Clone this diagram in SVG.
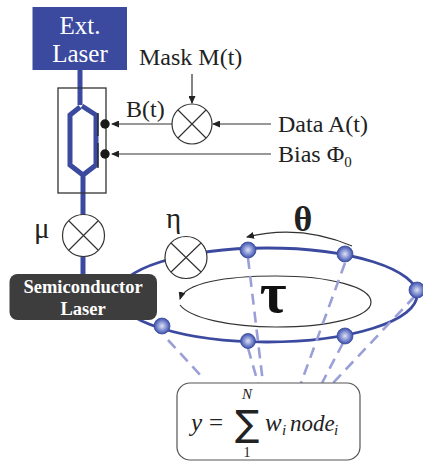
<svg xmlns="http://www.w3.org/2000/svg" width="423" height="461" viewBox="0 0 423 461">
<style>
text{font-family:"Liberation Serif","Times New Roman",serif;fill:#222}
.l{font-size:24px}
.wg{fill:none;stroke:#3b4a9f;stroke-width:5}
.thin{fill:none;stroke:#333;stroke-width:1.2}
.mix{fill:#fff;stroke:#333;stroke-width:1.2}
.dash{fill:none;stroke:#9a9fd8;stroke-width:2.6;stroke-dasharray:11 7}
.node{fill:url(#ball);stroke:#3b4a9f;stroke-width:.8}
.m{font-style:italic;font-size:25px}
.s{font-style:italic;font-size:15px}
</style>
<defs>
<radialGradient id="ball" cx=".5" cy=".5" r=".55"><stop offset="0" stop-color="#dfe2f5"/><stop offset=".55" stop-color="#7a8ace"/><stop offset="1" stop-color="#2c3f9e"/></radialGradient>
<marker id="arr" markerWidth="8" markerHeight="7" refX="7" refY="3.5" orient="auto" markerUnits="userSpaceOnUse"><path d="M0 0L8 3.500L0 7z" fill="#222"/></marker>
</defs>
<g id="connectors">
<path class="wg" d="M80 70V105M80 107L70 115V165L83 175L96 165V115L82 106M83 175V217M83 254V276"/>
<ellipse cx="267" cy="295" rx="150" ry="47" fill="none" stroke="#3b4a9f" stroke-width="2.800"/>
<path class="thin" d="M172 124H112" marker-end="url(#arr)"/>
<path class="thin" d="M271 154H112" marker-end="url(#arr)"/>
<path class="thin" d="M271 124H213" marker-end="url(#arr)"/>
<path class="thin" d="M192 74V103" marker-end="url(#arr)"/>
<path class="thin" d="M352 246Q300 224 247 237" marker-end="url(#arr)"/>
<path class="thin" d="M180 305C190 318 230 327 276 327C330 327 371 317 371 302C371 287 330 276 276 276C225 276 185 283 180 299" marker-end="url(#arr)"/>
<path class="dash" d="M168 340L203 378M248 348L258 383M248 258L263 383M345 263L301 383M343 343L322 383M415 296L333 383"/>
</g>
<g id="ext-laser"><rect x="32.500" y="7" width="94.500" height="63" fill="#3b4a9f"/><text x="80" y="34" text-anchor="middle" style="fill:#fff;font-size:25px">Ext.</text><text x="80" y="62" text-anchor="middle" style="fill:#fff;font-size:25px">Laser</text></g>
<g id="modulator"><rect x="58" y="88" width="48" height="105" fill="none" stroke="#333" stroke-width="1.300"/><path d="M98 113V136M98 143V168" stroke="#222" stroke-width="1.300" fill="none"/><circle cx="105" cy="124" r="4.700" fill="#1a1a1a"/><circle cx="105" cy="154" r="4.700" fill="#1a1a1a"/></g>
<g id="mask-mixer"><circle class="mix" cx="192" cy="124" r="20"/><path class="thin" d="M178 110L206 138M206 110L178 138"/></g>
<g id="mu-mixer"><circle class="mix" cx="83.500" cy="235.500" r="21"/><path class="thin" d="M69 221L98 250M98 221L69 250"/></g>
<g id="eta-mixer"><circle class="mix" cx="186" cy="257.500" r="21"/><path class="thin" d="M171 243L201 272M201 243L171 272"/></g>
<g id="semiconductor-laser"><rect x="9.500" y="274" width="147.500" height="46" rx="8" fill="#3d3d3d"/><text x="83" y="293" text-anchor="middle" font-weight="bold" style="fill:#fff;font-size:18.500px">Semiconductor</text><text x="83" y="315" text-anchor="middle" font-weight="bold" style="fill:#fff;font-size:18.500px">Laser</text></g>
<g id="nodes"><circle class="node" cx="248" cy="250" r="8"/><circle class="node" cx="345" cy="254" r="8"/><circle class="node" cx="417" cy="290" r="8"/><circle class="node" cx="345" cy="336" r="8"/><circle class="node" cx="248" cy="341" r="7.500"/><circle class="node" cx="162" cy="326" r="8"/></g>
<g id="labels">
<text x="139" y="65" class="l">Mask M(t)</text>
<text x="126" y="117" class="l">B(t)</text>
<text x="278" y="132" class="l">Data A(t)</text>
<text x="278" y="162" class="l">Bias Φ<tspan dy="5" font-size="15">0</tspan></text>
<text x="34" y="238" style="font-size:29px">μ</text>
<text x="166" y="228" style="font-size:29px">η</text>
<text x="303" y="231" text-anchor="middle" font-weight="bold" style="font-size:36px">θ</text>
<text x="273" y="312" text-anchor="middle" font-weight="bold" style="font-size:58px;fill:#111">τ</text>
</g>
<g id="readout"><rect x="177" y="383" width="183" height="77" rx="13" fill="#fff" stroke="#555" stroke-width="1.200"/>
<text x="191" y="431" class="m">y</text><text x="209" y="431" style="font-size:25px">=</text>
<text x="247.500" y="436" text-anchor="middle" style="font-family:'DejaVu Sans',sans-serif;font-size:36px;fill:#222">∑</text>
<text x="247" y="399" text-anchor="middle" class="s">N</text>
<text x="247" y="457" text-anchor="middle" style="font-size:14px">1</text>
<text x="265" y="431" class="m">w</text><text x="282" y="435" class="s">i</text>
<text x="290" y="431" class="m" style="font-size:23px">node</text><text x="334" y="435" class="s">i</text>
</g>
</svg>
